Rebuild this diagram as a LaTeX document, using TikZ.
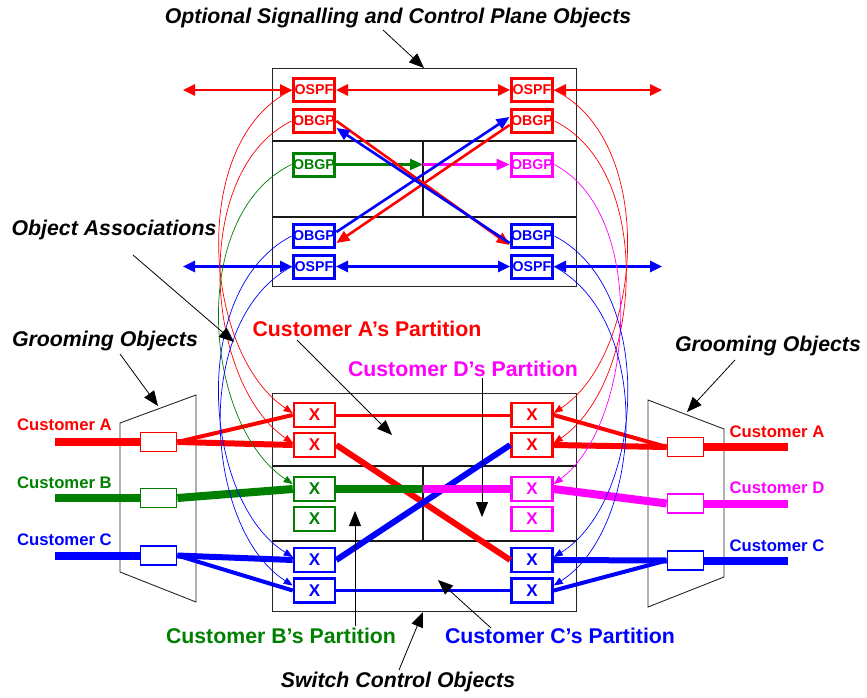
\documentclass[tikz,border=0pt]{standalone}
\usepackage{fontspec}
\setmainfont{Liberation Sans}
\usetikzlibrary{arrows.meta}
\definecolor{cred}{RGB}{255,0,0}
\definecolor{cgreen}{RGB}{0,128,0}
\definecolor{cblue}{RGB}{0,0,255}
\definecolor{cmag}{RGB}{255,0,255}
\begin{document}
\begin{tikzpicture}[x=1pt,y=-1pt,
  protobox/.style={draw=#1,text=#1,line width=3pt,minimum width=41pt,minimum height=23pt,inner sep=0pt,
    font=\fontsize{14.2}{14.2}\selectfont\bfseries},
  xbox/.style={draw=#1,text=#1,line width=2.6pt,minimum width=41pt,minimum height=24pt,inner sep=0pt,
    font=\fontsize{17}{17}\selectfont\bfseries},
  portbox/.style={draw=#1,fill=white,line width=1.8pt,minimum width=36pt,minimum height=19pt,inner sep=0pt},
  frame/.style={draw=black!85,line width=0.9pt},
  divider/.style={draw=black!90,line width=1.8pt},
  callout/.style={font=\fontsize{21.3}{21.3}\selectfont\bfseries\itshape,inner sep=0pt},
  partlabel/.style={text=#1,font=\fontsize{21.3}{21.3}\selectfont\bfseries,inner sep=0pt},
  custlabel/.style={text=#1,font=\fontsize{16.7}{16.7}\selectfont\bfseries,inner sep=0pt},
  pointer/.style={draw=black,line width=0.8pt,-{Triangle[length=15pt,width=12pt]}},
  linkarrow/.style={draw=#1,line width=2.6pt,{Triangle[length=12pt,width=11pt]}-{Triangle[length=12pt,width=11pt]}},
  xarrow/.style={draw=#1,line width=2.6pt,-{Triangle[length=13pt,width=11pt]}},
  assoc/.style={draw=#1,line width=0.7pt,-{Triangle[length=9pt,width=7pt]}},
  trunk/.style={draw=#1,line width=8pt},
  path4/.style={draw=#1,line width=4pt},
  path6/.style={draw=#1,line width=6pt},
  path3/.style={draw=#1,line width=3pt}]
\useasboundingbox (0,0) rectangle (867,698);

% ---------- control plane frame ----------
\draw[frame] (272,68) rectangle (576,286);
\draw[divider] (272,141) -- (576,141);
\draw[divider] (272,217) -- (576,217);
\draw[divider] (423,141) -- (423,217);

% ---------- switch frame ----------
\draw[frame] (272,393) rectangle (576,611);
\draw[divider] (272,466) -- (576,466);
\draw[divider] (272,541) -- (576,541);
\draw[divider] (423,466) -- (423,541);

% ---------- grooming trapezoids ----------
\draw[draw=black!85,line width=0.9pt] (120,423) -- (196,395) -- (196,602) -- (120,572) -- cycle;
\draw[draw=black!85,line width=0.9pt] (648,400) -- (724,429) -- (724,577) -- (648,607) -- cycle;

% ---------- protocol objects ----------
\node[protobox=cred]  (ospfAL) at (314,90)  {OSPF};
\node[protobox=cred]  (obgpAL) at (314,121) {OBGP};
\node[protobox=cgreen](obgpBL) at (314,164.5) {OBGP};
\node[protobox=cblue] (obgpCL) at (314,236) {OBGP};
\node[protobox=cblue] (ospfCL) at (314,266.5) {OSPF};
\node[protobox=cred]  (ospfAR) at (532,90)  {OSPF};
\node[protobox=cred]  (obgpAR) at (532,121) {OBGP};
\node[protobox=cmag]  (obgpDR) at (532,164.5) {OBGP};
\node[protobox=cblue] (obgpCR) at (532,236) {OBGP};
\node[protobox=cblue] (ospfCR) at (532,266.5) {OSPF};

% ---------- cross-connect objects ----------
\node[xbox=cred]  (xA1L) at (314.5,415) {X};
\node[xbox=cred]  (xA2L) at (314.5,445) {X};
\node[xbox=cgreen](xB1L) at (314.5,489) {X};
\node[xbox=cgreen](xB2L) at (314.5,519) {X};
\node[xbox=cblue] (xC1L) at (314.5,560) {X};
\node[xbox=cblue] (xC2L) at (314.5,590.5) {X};
\node[xbox=cred]  (xA1R) at (532,415) {X};
\node[xbox=cred]  (xA2R) at (532,445) {X};
\node[xbox=cmag]  (xD1R) at (532,489) {X};
\node[xbox=cmag]  (xD2R) at (532,519) {X};
\node[xbox=cblue] (xC1R) at (532,560) {X};
\node[xbox=cblue] (xC2R) at (532,590.5) {X};

% ---------- grooming ports ----------
\coordinate (endAL) at (55,442);
\coordinate (endBL) at (55,498);
\coordinate (endCL) at (55,555.5);
\coordinate (endAR) at (788,447);
\coordinate (endDR) at (788,503.5);
\coordinate (endCR) at (788,560.5);

% ---------- customer trunks and paths ----------
\draw[trunk=cred]   (endAL) -- (140,442);
\draw[trunk=cgreen] (endBL) -- (140,498);
\draw[trunk=cblue]  (endCL) -- (140,555.5);
\draw[trunk=cred]   (endAR) -- (704,447);
\draw[trunk=cmag]   (endDR) -- (704,503.5);
\draw[trunk=cblue]  (endCR) -- (704,560.5);

\node[portbox=cred]  (pAL) at (158.5,442) {};
\node[portbox=cgreen](pBL) at (158.5,498) {};
\node[portbox=cblue] (pCL) at (158.5,555.5) {};
\node[portbox=cred]  (pAR) at (685.5,447) {};
\node[portbox=cmag]  (pDR) at (685.5,503.5) {};
\node[portbox=cblue] (pCR) at (685.5,560.5) {};

% left side
\draw[path4=cred]   (pAL.east) -- (xA1L.west);
\draw[path6=cred]   (pAL.east) -- (xA2L.west);
\draw[trunk=cgreen] (pBL.east) -- (xB1L.west);
\draw[path6=cblue]  (pCL.east) -- (xC1L.west);
\draw[path4=cblue]  (pCL.east) -- (xC2L.west);
% right side
\draw[path4=cred]   (xA1R.east) -- (pAR.west);
\draw[path6=cred]   (xA2R.east) -- (pAR.west);
\draw[trunk=cmag]   (xD1R.east) -- (pDR.west);
\draw[path6=cblue]  (xC1R.east) -- (pCR.west);
\draw[path4=cblue]  (xC2R.east) -- (pCR.west);
% through the switch
\coordinate (midB) at (423,489);
\draw[path3=cred]   (xA1L.east) -- (xA1R.west);
\draw[path3=cblue]  (xC2L.east) -- (xC2R.west);
\draw[path6=cred]   (xA2L.east) -- (xC1R.west);
\draw[path6=cblue]  (xC1L.east) -- (xA2R.west);
\draw[trunk=cgreen] (xB1L.east) -- (midB);
\draw[trunk=cmag]   (midB) -- (xD1R.west);

% ---------- signalling links ----------
\coordinate (farAL) at (183,90);
\coordinate (farAR) at (662,90);
\coordinate (farCL) at (183,266.5);
\coordinate (farCR) at (662,266.5);
\draw[linkarrow=cred]  (farAL) -- (ospfAL.west);
\draw[linkarrow=cred]  (ospfAL.east) -- (ospfAR.west);
\draw[linkarrow=cred]  (ospfAR.east) -- (farAR);
\draw[linkarrow=cblue] (farCL) -- (ospfCL.west);
\draw[linkarrow=cblue] (ospfCL.east) -- (ospfCR.west);
\draw[linkarrow=cblue] (ospfCR.east) -- (farCR);

\coordinate (midG) at (423,164.5);
\draw[xarrow=cgreen] (obgpBL.east) -- (midG);
\draw[xarrow=cmag]   (midG) -- (obgpDR.west);
\draw[xarrow=cred]   (obgpAL.east) -- ([yshift=-9pt]obgpCR.west);
\draw[xarrow=cred]   ([yshift=-4pt]obgpAR.west) -- ([yshift=-7pt]obgpCL.east);
\draw[xarrow=cblue]  ([yshift=4pt]obgpCL.east) -- ([yshift=4pt]obgpAR.west);
\draw[xarrow=cblue]  ([yshift=-7pt]obgpCR.west) -- ([yshift=-7pt]obgpAL.east);

% ---------- object associations ----------
\draw[assoc=cred]   (ospfAL.west) .. controls +(-104,50) and +(-90,-60) .. ([yshift=2pt]xA1L.west);
\draw[assoc=cred]   (obgpAL.west) .. controls +(-102,50) and +(-88,-60) .. ([yshift=2pt]xA2L.west);
\draw[assoc=cgreen] (obgpBL.west) .. controls +(-104,50) and +(-90,-60) .. ([yshift=5pt]xB1L.west);
\draw[assoc=cblue]  (obgpCL.west) .. controls +(-104,54) and +(-90,-56) .. ([yshift=3pt]xC1L.west);
\draw[assoc=cblue]  (ospfCL.west) .. controls +(-102,54) and +(-88,-56) .. ([yshift=5pt]xC2L.west);
\draw[assoc=cred]   (ospfAR.east) .. controls +(104,50) and +(90,-60) .. ([yshift=2pt]xA1R.east);
\draw[assoc=cred]   (obgpAR.east) .. controls +(102,50) and +(88,-60) .. ([yshift=2pt]xA2R.east);
\draw[assoc=cmag]   (obgpDR.east) .. controls +(95,50) and +(80,-60) .. ([yshift=5pt]xD1R.east);
\draw[assoc=cblue]  (obgpCR.east) .. controls +(104,54) and +(90,-56) .. ([yshift=3pt]xC1R.east);
\draw[assoc=cblue]  (ospfCR.east) .. controls +(102,54) and +(88,-56) .. ([yshift=5pt]xC2R.east);

% ---------- labels ----------
\node[callout] (tOpt)  at (398,18)  {Optional Signalling and Control Plane Objects};
\node[callout] (tAssoc) at (114,230) {Object Associations};
\node[callout] (tGroL) at (105,341) {Grooming Objects};
\node[callout] (tGroR) at (768,346) {Grooming Objects};
\node[callout] (tSwitch) at (398,682) {Switch Control Objects};
\node[partlabel=cred]   (tPA) at (367,329) {Customer A’s Partition};
\node[partlabel=cmag]   (tPD) at (463,369) {Customer D’s Partition};
\node[partlabel=cgreen] (tPB) at (281,636) {Customer B’s Partition};
\node[partlabel=cblue]  (tPC) at (560,636) {Customer C’s Partition};
\node[custlabel=cred]   (tCAL) at (64.5,425) {Customer A};
\node[custlabel=cgreen] (tCBL) at (64.5,483) {Customer B};
\node[custlabel=cblue]  (tCCL) at (64.5,540) {Customer C};
\node[custlabel=cred]   (tCAR) at (777,432) {Customer A};
\node[custlabel=cmag]   (tCDR) at (777,488) {Customer D};
\node[custlabel=cblue]  (tCCR) at (777,546) {Customer C};

% ---------- label pointers ----------
\coordinate (tipOpt) at (424,68);
\coordinate (tipAssoc) at (234,342);
\coordinate (tipGroL) at (158,406);
\coordinate (tipGroR) at (687,412);
\coordinate (tipPA) at (392,435);
\coordinate (tipPD) at (482,517);
\coordinate (tipPB) at (355,511);
\coordinate (tipPC) at (438,580);
\coordinate (tipSw) at (423,612);
\draw[pointer] (383,30) -- (tipOpt);
\draw[pointer] (133,255) -- (tipAssoc);
\draw[pointer] (120,354) -- (tipGroL);
\draw[pointer] (735,360) -- (tipGroR);
\draw[pointer] (297,340) -- (tipPA);
\draw[pointer] (482,378) -- (tipPD);
\draw[pointer] (355,626) -- (tipPB);
\draw[pointer] (491,628) -- (tipPC);
\draw[pointer] (399,670) -- (tipSw);
\end{tikzpicture}
\end{document}
